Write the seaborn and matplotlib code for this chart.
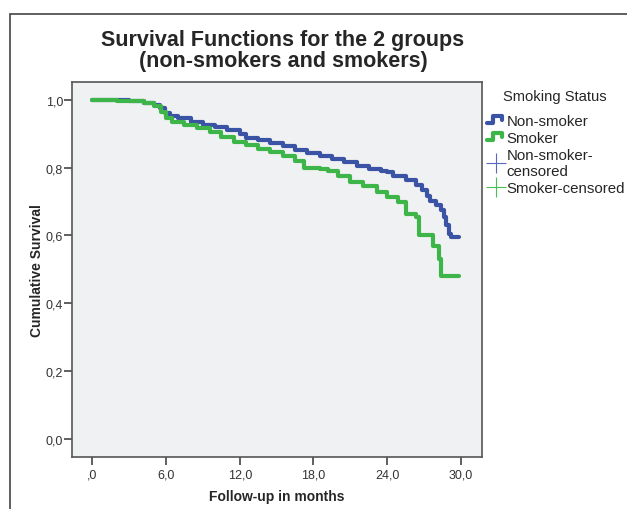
import matplotlib
matplotlib.use("Agg")
import matplotlib.pyplot as plt
import seaborn as sns
import pandas as pd
from matplotlib.lines import Line2D
from matplotlib.patches import Rectangle
from matplotlib.legend_handler import HandlerBase

# survival estimates (months, cumulative survival)
nonsmoker_t = [0, 1.5, 3.0, 4.2, 5.0, 5.5, 5.9, 6.3, 7.0, 8.0, 9.0, 10.0, 11.0, 12.0,
               12.5, 13.5, 14.5, 15.5, 16.5, 17.5, 18.5, 19.5, 20.5, 21.5, 22.5, 23.5,
               24.0, 24.5, 25.5, 26.3, 26.8, 27.2, 27.5, 28.0, 28.4, 28.6, 28.8, 29.0,
               29.2, 29.8]
nonsmoker_s = [1.0, 0.998, 0.995, 0.99, 0.985, 0.975, 0.96, 0.953, 0.945, 0.935, 0.925,
               0.918, 0.91, 0.90, 0.888, 0.88, 0.872, 0.862, 0.853, 0.843, 0.835, 0.825,
               0.815, 0.805, 0.797, 0.79, 0.787, 0.775, 0.762, 0.748, 0.735, 0.715, 0.70,
               0.69, 0.675, 0.655, 0.63, 0.605, 0.595, 0.595]
smoker_t = [0, 2.0, 4.2, 5.0, 5.6, 6.0, 6.5, 7.5, 8.5, 9.6, 10.5, 11.5, 12.5, 13.5,
            14.5, 15.5, 16.5, 17.2, 18.5, 19.2, 20.0, 21.0, 22.0, 23.2, 24.0, 24.9,
            25.5, 26.3, 26.6, 27.5, 27.7, 28.2, 28.4, 29.8]
smoker_s = [1.0, 0.997, 0.99, 0.98, 0.965, 0.945, 0.935, 0.925, 0.915, 0.905, 0.89,
            0.875, 0.865, 0.855, 0.845, 0.835, 0.82, 0.80, 0.795, 0.79, 0.775, 0.757,
            0.745, 0.728, 0.713, 0.698, 0.663, 0.654, 0.60, 0.60, 0.57, 0.53, 0.48, 0.48]

groups = ["Non-smoker", "Smoker"]
colors = {"Non-smoker": "#3a53a4", "Smoker": "#3db549"}
cens_colors = {"Non-smoker": "#5568c0", "Smoker": "#45c052"}
x_ticks = [0, 6, 12, 18, 24, 30]
x_labels = [",0", "6,0", "12,0", "18,0", "24,0", "30,0"]
y_ticks = [0.0, 0.2, 0.4, 0.6, 0.8, 1.0]
y_labels = ["0,0", "0,2", "0,4", "0,6", "0,8", "1,0"]

df = pd.concat([
    pd.DataFrame({"t": nonsmoker_t, "s": nonsmoker_s, "group": "Non-smoker"}),
    pd.DataFrame({"t": smoker_t, "s": smoker_s, "group": "Smoker"}),
])

sns.set_style("white")
plt.rcParams["font.family"] = ["Liberation Sans", "DejaVu Sans"]

fig = plt.figure(figsize=(6.27, 5.10), dpi=100)
ax = fig.add_axes([72 / 627, 1 - 458 / 510, 409.5 / 627, 375 / 510])
ax.set_facecolor("#f0f1f2")

for g in groups:
    sub = df[df["group"] == g]
    sns.lineplot(data=sub, x="t", y="s", ax=ax, color=colors[g], lw=3.0,
                 drawstyle="steps-post", estimator=None, sort=False, legend=False)

ax.set_xlim(-1.65, 31.67)
ax.set_ylim(-0.053, 1.052)
ax.set_xticks(x_ticks)
ax.set_xticklabels(x_labels)
ax.set_yticks(y_ticks)
ax.set_yticklabels(y_labels)
ax.tick_params(axis="both", direction="out", length=5.5, width=1.2, color="#444444",
               labelsize=9, labelcolor="#333333", bottom=True, left=True)
ax.tick_params(axis="y", pad=1)
ax.tick_params(axis="x", pad=3)
for sp in ax.spines.values():
    sp.set_color("#555555")
    sp.set_linewidth(1.2)
ax.set_xlabel("Follow-up in months", fontsize=10, fontweight="bold", labelpad=6)
ax.set_ylabel("Cumulative Survival", fontsize=10, fontweight="bold", labelpad=1)

fig.text(283 / 627, 1 - 51 / 510, "Survival Functions for the 2 groups\n(non-smokers and smokers)",
         ha="center", va="center", fontsize=15.5, fontweight="bold", linespacing=1.0)

# outer frame (only left and top visible)
fig.add_artist(Rectangle((10 / 627, -0.2), 1.2, 0.2 + 1 - 15 / 510, transform=fig.transFigure,
                         fill=False, edgecolor="#444444", lw=1.2, clip_on=False))


class StepHandler(HandlerBase):
    def create_artists(self, legend, orig_handle, xd, yd, w, h, fontsize, trans):
        xs = [0, 0.35 * w, 0.35 * w, 0.85 * w, 0.85 * w]
        ys = [0.2 * h, 0.2 * h, 0.85 * h, 0.85 * h, 0.45 * h]
        ln = Line2D(xs, ys, color=orig_handle.get_color(), lw=3, transform=trans)
        return [ln]


handles = [Line2D([], [], color=colors["Non-smoker"]),
           Line2D([], [], color=colors["Smoker"]),
           Line2D([], [], color=cens_colors["Non-smoker"], marker="+", ls="", ms=14, mew=0.8),
           Line2D([], [], color=cens_colors["Smoker"], marker="+", ls="", ms=14, mew=0.8)]
labels = ["Non-smoker", "Smoker", "Non-smoker-\ncensored", "Smoker-censored"]
leg = fig.legend(handles, labels, loc="upper left",
                 bbox_to_anchor=(481 / 627, 1 - 109 / 510), frameon=False,
                 fontsize=10.8, handlelength=1.2, handletextpad=0.1,
                 labelspacing=0.2, borderaxespad=0,
                 handler_map={handles[0]: StepHandler(), handles[1]: StepHandler()})
fig.text(503 / 627, 1 - 97 / 510, "Smoking Status", fontsize=10.6, va="center", ha="left")

fig.savefig("out.png", dpi=100)
